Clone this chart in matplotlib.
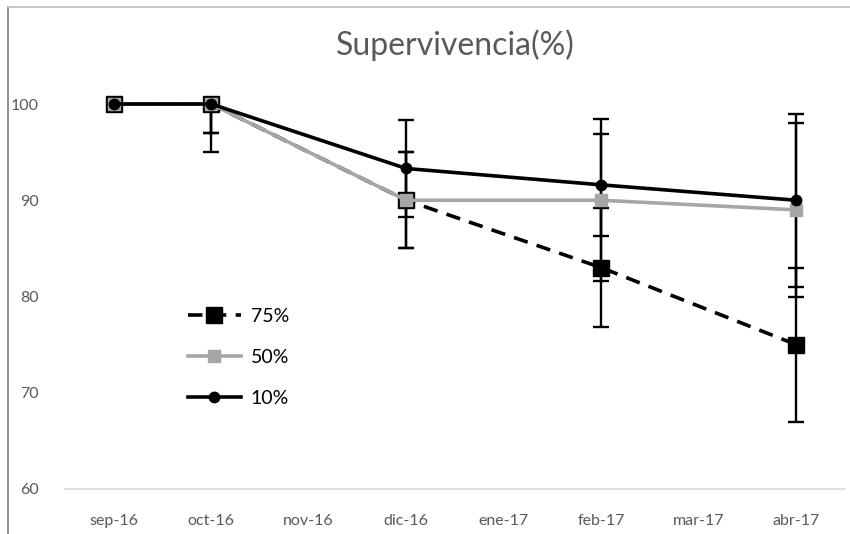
import matplotlib
matplotlib.use("Agg")
import matplotlib.pyplot as plt
from matplotlib.lines import Line2D

meses = ["sep-16", "oct-16", "nov-16", "dic-16", "ene-17", "feb-17", "mar-17", "abr-17"]
muestreos = ["sep-16", "oct-16", "dic-16", "feb-17", "abr-17"]

sup_75 = [100, 100, 90, 83, 75]
err_75 = [0, 3, 5, 6.2, 8]
sup_50 = [100, 100, 90, 90, 89]
err_50 = [0, 5, 5, 8.4, 9]
sup_10 = [100, 100, 93.3, 91.6, 90]
err_10 = [0, 3, 5, 5.3, 9]

gris_texto = "#595959"
plt.rcParams["font.family"] = ["Lato", "DejaVu Sans"]

fig = plt.figure(figsize=(8.5, 5.34), dpi=100)
ax = fig.add_axes([65 / 850, 45 / 534, 780 / 850, 385 / 534])

x = [meses.index(m) for m in muestreos]

# barras de error (negras, recortadas en 100 como en excel)
for vals, errs in [(sup_75, err_75), (sup_50, err_50), (sup_10, err_10)]:
    ax.errorbar(x, vals, yerr=errs, fmt="none", ecolor="black",
                elinewidth=1.7, capsize=6, capthick=1.7, zorder=2)

ax.plot(x, sup_75, color="black", lw=2.6, ls=(0, (4, 2.6)), marker="s",
        ms=11, mfc="black", mec="black", label="75%", zorder=3, clip_on=False)
ax.plot(x, sup_50, color="#a6a6a6", lw=2.6, marker="s", ms=9,
        mfc="#a6a6a6", mec="#a6a6a6", label="50%", zorder=4, clip_on=False)
ax.plot(x, sup_10, color="black", lw=2.6, marker="o", ms=7.5,
        label="10%", zorder=5, clip_on=False)

ax.set_xlim(-0.5, len(meses) - 0.5)
ax.set_ylim(60, 100)
ax.set_xticks(range(len(meses)))
ax.set_xticklabels(meses)
ax.set_yticks([60, 70, 80, 90, 100])
ax.tick_params(length=0, labelsize=11.5, labelcolor=gris_texto)
ax.tick_params(axis="y", pad=19)
ax.tick_params(axis="x", pad=18)
for lado in ["top", "right", "left"]:
    ax.spines[lado].set_visible(False)
ax.spines["bottom"].set_color("#d9d9d9")
ax.spines["bottom"].set_linewidth(1.2)

fig.text(455 / 850, 1 - 45 / 534, "Supervivencia(%)", ha="center", va="center",
         fontsize=23, color=gris_texto)

ax.legend(loc="upper left", bbox_to_anchor=(170 / 850, 1 - 290 / 534),
          bbox_transform=fig.transFigure, frameon=False, fontsize=14,
          handlelength=2.75, labelspacing=1.25, handletextpad=0.5)

# borde del grafico
fig.add_artist(Line2D([8 / 850, 8 / 850], [0, 1 - 7 / 534], color="#7f7f7f", lw=1.2))
fig.add_artist(Line2D([8 / 850, 1], [1 - 7 / 534, 1 - 7 / 534], color="#bfbfbf", lw=1.2))

fig.savefig("out.png", dpi=100)
